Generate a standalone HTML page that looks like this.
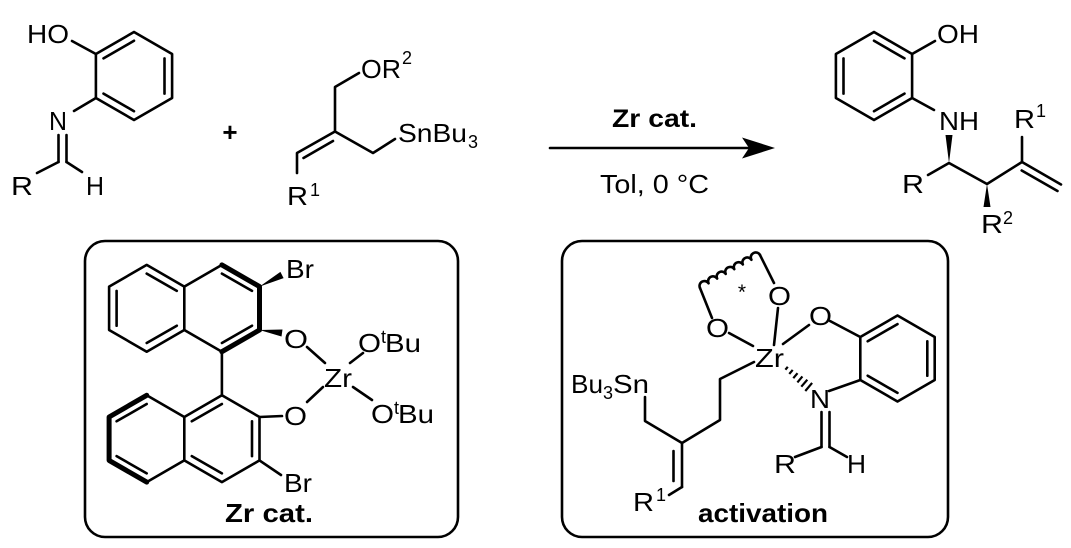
<!DOCTYPE html>
<html>
<head>
<meta charset="utf-8">
<style>
html,body{margin:0;padding:0;background:#fff;}
svg{display:block;}
text{font-family:"Liberation Sans",Arial,sans-serif;fill:#000;}
</style>
</head>
<body>
<svg width="1071" height="548" viewBox="0 0 1071 548" xmlns="http://www.w3.org/2000/svg">
<rect width="1071" height="548" fill="#fff"/>
<g stroke="#000" stroke-width="2.6" fill="none" stroke-linecap="round" stroke-linejoin="round">
  <!-- Reactant 1 -->
  <polygon points="134,32 172.1,54 172.1,98 134,120 95.9,98 95.9,54"/>
  <line x1="103.5" y1="58.4" x2="134" y2="40.8"/>
  <line x1="164.5" y1="58.4" x2="164.5" y2="93.6"/>
  <line x1="103.5" y1="93.6" x2="134" y2="111.2"/>
  <line x1="95.9" y1="54" x2="72" y2="41"/>
  <line x1="95.9" y1="98" x2="74" y2="111"/>
  <line x1="58.5" y1="135" x2="58.5" y2="162"/>
  <line x1="66.5" y1="135" x2="66.5" y2="162"/>
  <line x1="58.5" y1="162" x2="37" y2="173"/>
  <line x1="66.5" y1="162" x2="82" y2="172"/>

  <!-- Reactant 2 -->
  <polyline points="297,173 297,153 335,131.5 335,87 359,73"/>
  <line x1="303.5" y1="158" x2="333" y2="141"/>
  <polyline points="335,131.5 373,153 395,139"/>

  <!-- Arrow -->
  <line x1="550" y1="148" x2="748" y2="148"/>

  <!-- Product -->
  <polygon points="874,32 912.1,54 912.1,98 874,120 835.9,98 835.9,54"/>
  <line x1="874" y1="40.8" x2="904.5" y2="58.4"/>
  <line x1="843.5" y1="58.4" x2="843.5" y2="93.6"/>
  <line x1="904.5" y1="93.6" x2="874" y2="111.2"/>
  <line x1="912.1" y1="54" x2="935" y2="41"/>
  <line x1="912.1" y1="98" x2="934" y2="110"/>
  <polyline points="928,175 949,163 987,184 1022,162 1022,137"/>
  <line x1="1022" y1="162" x2="1061" y2="184.5"/>
  <line x1="1021.7" y1="170.5" x2="1057.5" y2="191"/>

  <!-- Box 1 -->
  <rect x="85" y="241" width="373" height="296" rx="20"/>
  <polygon points="146.7,264.9 184.3,286.6 184.3,330 146.7,351.7 109.1,330 109.1,286.6"/>
  <line x1="146.7" y1="273.6" x2="176.8" y2="290.9"/>
  <line x1="116.6" y1="290.9" x2="116.6" y2="325.7"/>
  <line x1="176.8" y1="325.7" x2="146.7" y2="343"/>
  <line x1="184.3" y1="286.6" x2="221.9" y2="264.9"/>
  <line x1="184.3" y1="330" x2="221.9" y2="351.7"/>
  <line x1="221.9" y1="273.6" x2="252" y2="290.9"/>
  <line x1="252" y1="325.7" x2="221.9" y2="343"/>
  <line x1="221.9" y1="351.7" x2="221.9" y2="395.3"/>
  <polygon points="184.3,417 221.9,395.3 259.5,417 259.5,460.4 221.9,482.1 184.3,460.4"/>
  <line x1="191.8" y1="421.3" x2="221.9" y2="404"/>
  <line x1="252" y1="421.3" x2="252" y2="456.1"/>
  <line x1="221.9" y1="473.4" x2="191.8" y2="456.1"/>
  <line x1="184.3" y1="417" x2="146.7" y2="395.3"/>
  <line x1="184.3" y1="460.4" x2="146.7" y2="482.1"/>
  <line x1="146.7" y1="404" x2="116.6" y2="421.3"/>
  <line x1="116.6" y1="456.1" x2="146.7" y2="473.4"/>
  <line x1="259.5" y1="417" x2="282" y2="416"/>
  <line x1="259.5" y1="460.4" x2="281" y2="475"/>
  <line x1="307" y1="347" x2="325" y2="363"/>
  <line x1="307" y1="402" x2="323" y2="387"/>
  <line x1="350" y1="363" x2="363" y2="353"/>
  <line x1="353" y1="387" x2="372" y2="400"/>

  <!-- Box 2 -->
  <rect x="562" y="241" width="386" height="296" rx="20"/>
  <line x1="712" y1="318" x2="700" y2="288"/>
  <path d="M700,288 a4.9,4.9 0 0 1 8.57,-4.71 a4.9,4.9 0 0 1 8.57,-4.71 a4.9,4.9 0 0 1 8.57,-4.71 a4.9,4.9 0 0 1 8.57,-4.71 a4.9,4.9 0 0 1 8.57,-4.71 a4.9,4.9 0 0 1 8.57,-4.71 a4.9,4.9 0 0 1 8.58,-4.74" stroke-width="2.6"/>
  <line x1="760" y1="255" x2="774" y2="283"/>
  <line x1="778" y1="308" x2="774" y2="345"/>
  <line x1="729" y1="333" x2="753" y2="346"/>
  <line x1="783" y1="344" x2="809" y2="325"/>
  <line x1="830" y1="321" x2="860.3" y2="337"/>
  <polygon points="897.5,315.5 934.7,337 934.7,380 897.5,401.5 860.3,380 860.3,337"/>
  <line x1="867.7" y1="341.3" x2="897.5" y2="324.1"/>
  <line x1="927.3" y1="341.3" x2="927.3" y2="375.7"/>
  <line x1="867.7" y1="375.7" x2="897.5" y2="392.9"/>
  <line x1="829" y1="391" x2="860.3" y2="380"/>
  <line x1="821.5" y1="412" x2="821.5" y2="447"/>
  <line x1="829.5" y1="412" x2="829.5" y2="447"/>
  <line x1="821.5" y1="447" x2="795" y2="457"/>
  <line x1="829.5" y1="447" x2="847" y2="457"/>
  <polyline points="754,362 720,379 720,420 682,443 645,421 645,397"/>
  <line x1="682" y1="443" x2="682" y2="487"/>
  <line x1="673.5" y1="451" x2="673.5" y2="481"/>
  <line x1="682" y1="487" x2="669" y2="495"/>
  <g stroke-width="2.2" stroke-linecap="butt">
    <line x1="785.4" y1="369.7" x2="787.8" y2="366.8"/>
    <line x1="789.3" y1="373.9" x2="792.7" y2="369.9"/>
    <line x1="793.3" y1="378.2" x2="797.5" y2="373.2"/>
    <line x1="797.4" y1="382.4" x2="802.4" y2="376.4"/>
    <line x1="801.3" y1="386.7" x2="807.3" y2="379.7"/>
    <line x1="805.3" y1="391.0" x2="812.1" y2="382.9"/>
  </g>
</g>
<!-- bold bonds -->
<g stroke="#000" stroke-width="5" fill="none" stroke-linejoin="round" stroke-linecap="round">
  <polyline points="221.9,264.9 259.5,286.6 259.5,330 221.9,351.7"/>
  <polyline points="146.7,395.3 109.1,417 109.1,460.4 146.7,482.1"/>
</g>
<!-- filled shapes -->
<g fill="#000" stroke="none">
  <polygon points="775,148 742,137.5 749,148 742,158.5"/>
  <polygon points="949,163 945.5,135 952.5,135"/>
  <polygon points="987,184 983.5,207 990.5,207"/>
  <polygon points="259.5,286.6 283.6,278.1 280.4,271.9"/>
  <polygon points="259.5,330 281.5,336.5 282.5,329.5"/>
</g>

<!-- Texts -->
<g font-size="26">
  <text x="27" y="43" textLength="42" lengthAdjust="spacingAndGlyphs">HO</text>
  <text x="49" y="130" textLength="18" lengthAdjust="spacingAndGlyphs">N</text>
  <text x="11" y="195" textLength="22" lengthAdjust="spacingAndGlyphs">R</text>
  <text x="86" y="195" textLength="18" lengthAdjust="spacingAndGlyphs">H</text>

  <text x="287" y="205" textLength="21" lengthAdjust="spacingAndGlyphs">R</text>
  <text x="361" y="78" textLength="40" lengthAdjust="spacingAndGlyphs">OR</text>
  <text x="398" y="142" textLength="69" lengthAdjust="spacingAndGlyphs">SnBu</text>

  <text x="600" y="193" textLength="109" lengthAdjust="spacingAndGlyphs">Tol, 0 °C</text>

  <text x="937" y="43" textLength="42" lengthAdjust="spacingAndGlyphs">OH</text>
  <text x="939" y="130" textLength="40" lengthAdjust="spacingAndGlyphs">NH</text>
  <text x="902" y="193" textLength="22" lengthAdjust="spacingAndGlyphs">R</text>
  <text x="981" y="233" textLength="22" lengthAdjust="spacingAndGlyphs">R</text>
  <text x="1014" y="128" textLength="21" lengthAdjust="spacingAndGlyphs">R</text>

  <text x="286" y="278" textLength="28" lengthAdjust="spacingAndGlyphs">Br</text>
  <text x="284" y="348" textLength="24" lengthAdjust="spacingAndGlyphs">O</text>
  <text x="284" y="425" textLength="23" lengthAdjust="spacingAndGlyphs">O</text>
  <text x="324" y="387" textLength="28" lengthAdjust="spacingAndGlyphs">Zr</text>
  <text x="358" y="352" textLength="23" lengthAdjust="spacingAndGlyphs">O</text>
  <text x="385" y="352" textLength="36" lengthAdjust="spacingAndGlyphs">Bu</text>
  <text x="371" y="423" textLength="23" lengthAdjust="spacingAndGlyphs">O</text>
  <text x="398" y="423" textLength="36" lengthAdjust="spacingAndGlyphs">Bu</text>
  <text x="284" y="492" textLength="28" lengthAdjust="spacingAndGlyphs">Br</text>

  <text x="755" y="367" textLength="29" lengthAdjust="spacingAndGlyphs">Zr</text>
  <text x="706" y="337" textLength="23" lengthAdjust="spacingAndGlyphs">O</text>
  <text x="768" y="305" textLength="23" lengthAdjust="spacingAndGlyphs">O</text>
  <text x="809" y="325" textLength="23" lengthAdjust="spacingAndGlyphs">O</text>
  <text x="810" y="408" textLength="20" lengthAdjust="spacingAndGlyphs">N</text>
  <text x="774" y="473" textLength="22" lengthAdjust="spacingAndGlyphs">R</text>
  <text x="847" y="473" textLength="19" lengthAdjust="spacingAndGlyphs">H</text>
  <text x="571" y="393" textLength="32" lengthAdjust="spacingAndGlyphs">Bu</text>
  <text x="613" y="393" textLength="36" lengthAdjust="spacingAndGlyphs">Sn</text>
  <text x="633" y="511" textLength="21" lengthAdjust="spacingAndGlyphs">R</text>
</g>
<g font-size="18">
  <text x="310" y="196">1</text>
  <text x="402" y="64">2</text>
  <text x="468" y="148">3</text>
  <text x="1003" y="224">2</text>
  <text x="1036" y="117">1</text>
  <text x="381" y="343">t</text>
  <text x="394" y="414">t</text>
  <text x="603" y="399">3</text>
  <text x="656" y="501">1</text>
  <text x="742" y="299" text-anchor="middle" font-size="21">*</text>
</g>
<text x="230" y="141" text-anchor="middle" font-size="26" font-weight="bold">+</text>
<text x="612" y="127" font-size="25" font-weight="bold" textLength="85" lengthAdjust="spacingAndGlyphs">Zr cat.</text>
<text x="225" y="522" font-size="26" font-weight="bold" textLength="88" lengthAdjust="spacingAndGlyphs">Zr cat.</text>
<text x="698" y="522" font-size="26" font-weight="bold" textLength="130" lengthAdjust="spacingAndGlyphs">activation</text>
</svg>
</body>
</html>
